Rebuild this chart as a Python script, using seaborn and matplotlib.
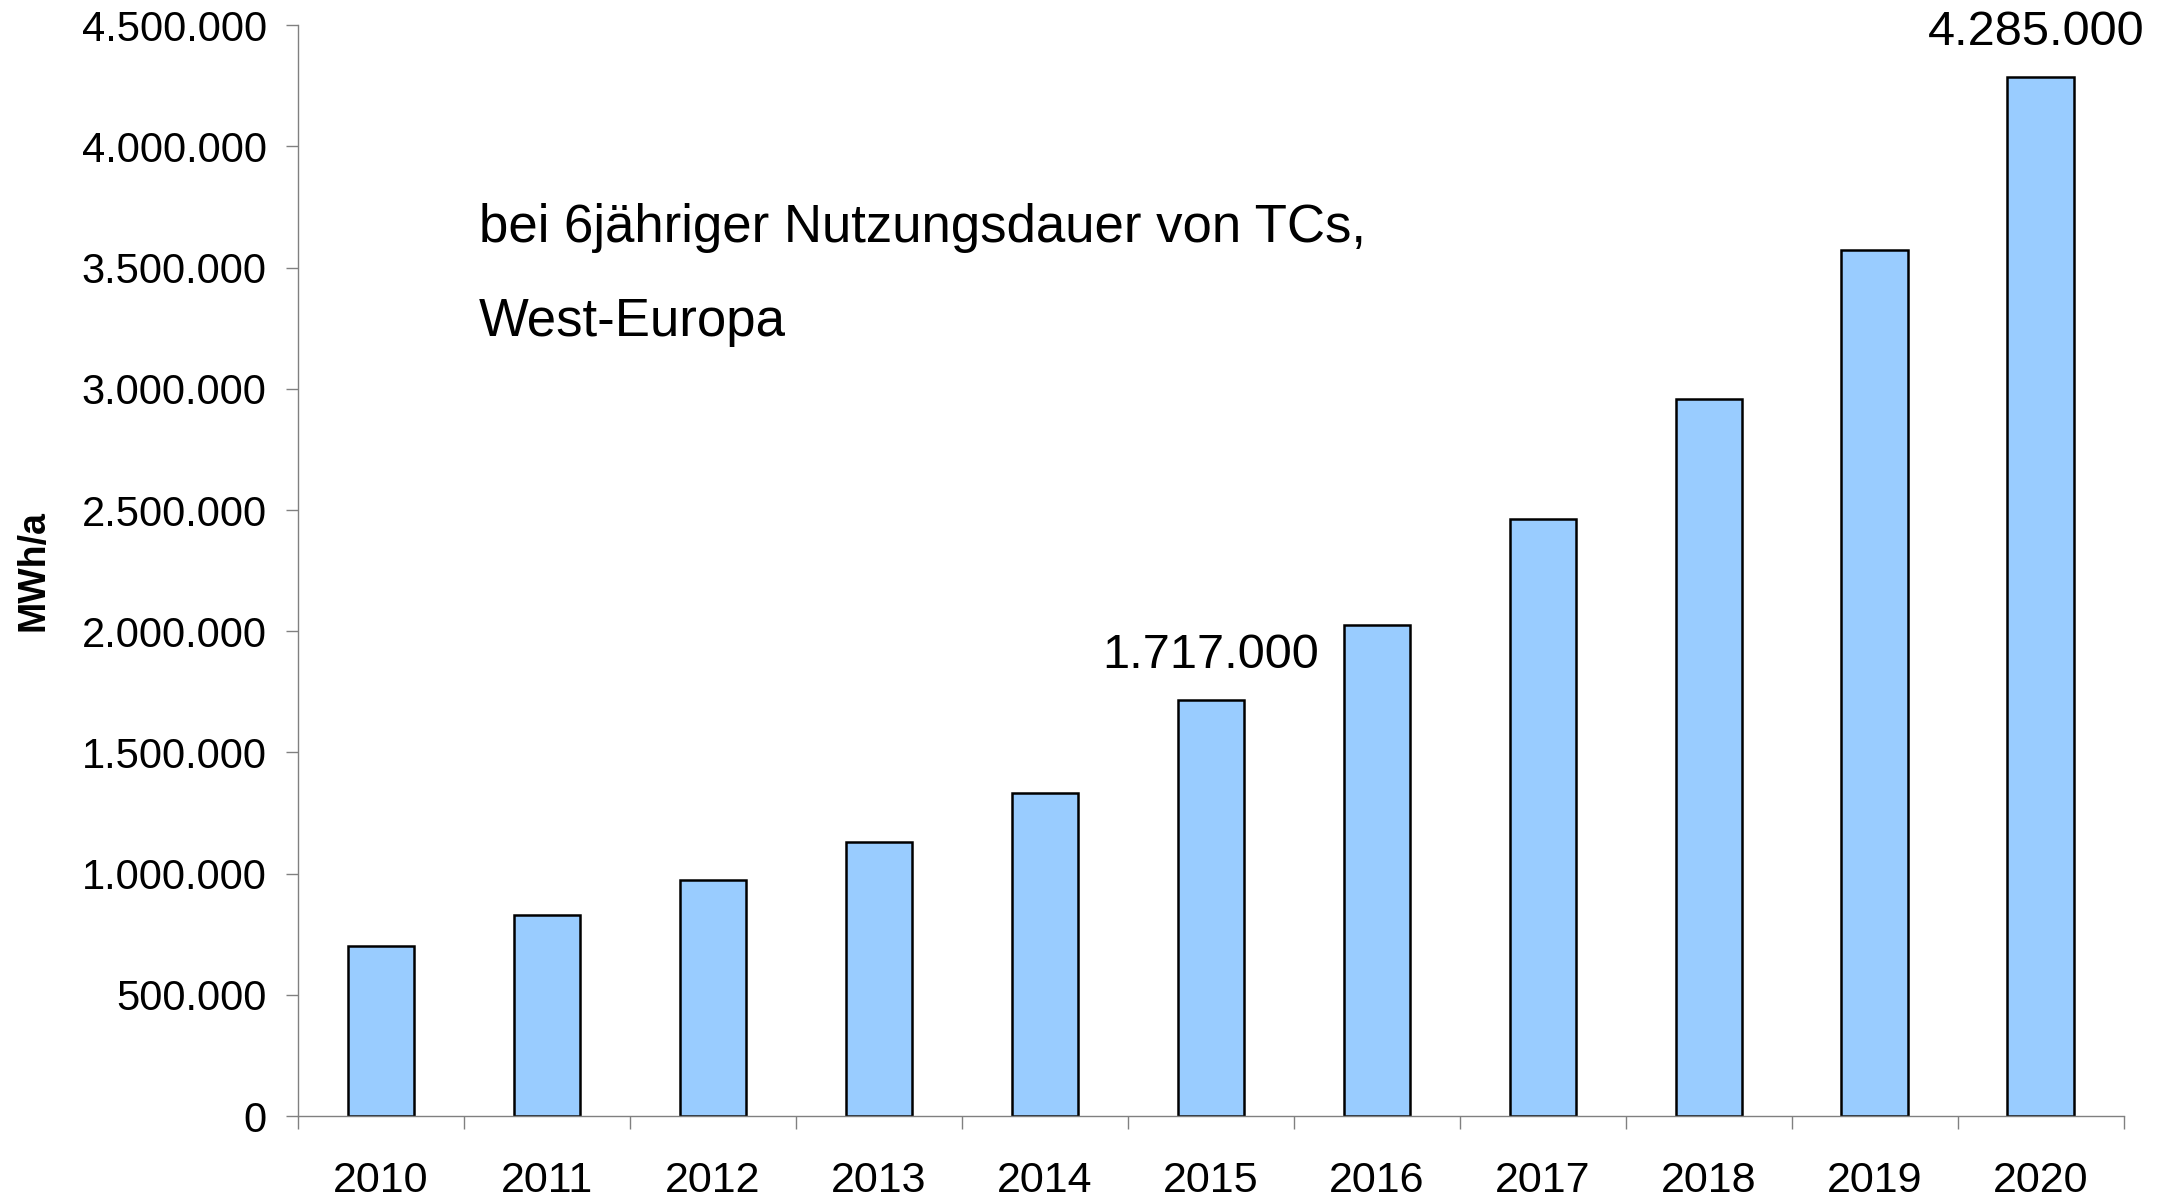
import numpy as np
import pandas as pd
import matplotlib
matplotlib.use('Agg')
import matplotlib.pyplot as plt
import seaborn as sns
from matplotlib.ticker import FuncFormatter


years = ['2010', '2011', '2012', '2013', '2014', '2015',
         '2016', '2017', '2018', '2019', '2020']
values = [700000, 830000, 973000, 1132000, 1331000, 1717000,
          2025000, 2463000, 2958000, 3572000, 4285000]

# only these two bars get a value label
labelled_years = ['2015', '2020']

note_lines = ['bei 6jähriger Nutzungsdauer von TCs,', 'West-Europa']
y_label = 'MWh/a'

df = pd.DataFrame({'Jahr': years, 'Wert': values})

sns.set_style('white')
plt.rcParams['font.family'] = ['Liberation Sans', 'DejaVu Sans']
plt.rcParams['text.color'] = 'black'
plt.rcParams['axes.labelcolor'] = 'black'

fig = plt.figure(figsize=(21.63, 11.98), dpi=100)
ax = fig.add_axes([0.1378, 0.0684, 0.844, 0.9106])

sns.barplot(
    data=df,
    x='Jahr',
    y='Wert',
    color='#99CCFF',
    saturation=1,
    edgecolor='black',
    linewidth=1.8,
    width=0.4,
    ax=ax
)

ax.set_xlim(-0.5, len(years) - 0.5)
ax.set_ylim(0, 4500000)
ax.set_yticks(np.arange(0, 4500001, 500000))


def de_fmt(v, pos):
    return f'{int(v):,}'.replace(',', '.')


ax.yaxis.set_major_formatter(FuncFormatter(de_fmt))

# ticks between the categories, labels at the centers
ax.set_xticks(np.arange(-0.5, len(years), 1.0))
ax.set_xticklabels([])
ax.set_xticks(np.arange(len(years)), minor=True)
ax.set_xticklabels(years, minor=True)

ax.tick_params(axis='x', which='major', length=9.5, width=1.0,
               color='#808080', direction='out', bottom=True)
ax.tick_params(axis='x', which='minor', length=0, pad=32, labelsize=31,
               labelcolor='black')
ax.tick_params(axis='y', length=8.6, width=1.0, color='#808080',
               direction='out', left=True, pad=14, labelsize=30,
               labelcolor='black')

for side in ['top', 'right']:
    ax.spines[side].set_visible(False)
for side in ['left', 'bottom']:
    ax.spines[side].set_color('#808080')
    ax.spines[side].set_linewidth(1.0)

ax.set_xlabel('')
ax.set_ylabel('')
fig.text(0.0157, 0.524, y_label, rotation=90, fontsize=27,
         fontweight='bold', ha='center', va='center')

for yr in labelled_years:
    i = years.index(yr)
    txt = de_fmt(values[i], None)
    dx = -3 if i == len(years) - 1 else 0
    ax.annotate(txt, xy=(i, values[i]), xytext=(dx, 16),
                textcoords='offset points', ha='center', va='bottom',
                fontsize=35)

ax.text(0.099, 0.814, note_lines[0], transform=ax.transAxes,
        fontsize=38, ha='left', va='center')
ax.text(0.099, 0.728, note_lines[1], transform=ax.transAxes,
        fontsize=38, ha='left', va='center')

fig.savefig('out.png', dpi=100)
